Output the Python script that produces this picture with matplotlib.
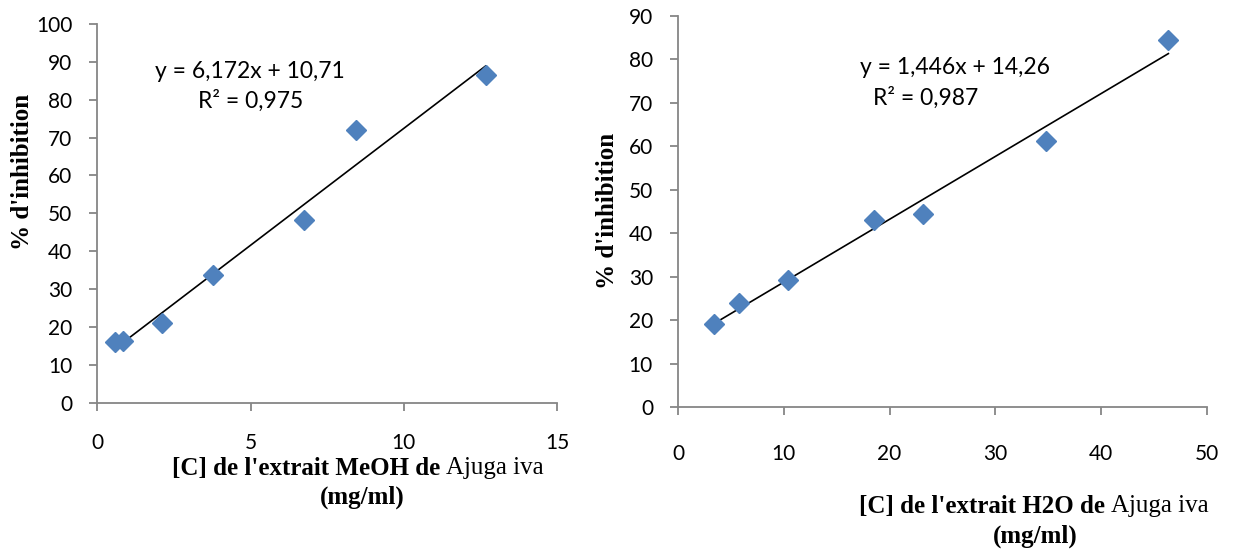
import numpy as np
import matplotlib
matplotlib.use("Agg")
import matplotlib.pyplot as plt

# MeOH extract (left)
meoh_conc = [0.58, 0.85, 2.1, 3.77, 6.74, 8.43, 12.67]
meoh_inhib = [16.1, 16.4, 21.1, 33.7, 48.2, 72.0, 86.5]
meoh_fit = (6.172, 10.71)
meoh_eq = ["y = 6,172x + 10,71", "R² = 0,975"]

# H2O extract (right)
h2o_conc = [3.43, 5.77, 10.43, 18.55, 23.2, 34.75, 46.35]
h2o_inhib = [19.2, 24.0, 29.2, 43.0, 44.3, 61.1, 84.4]
h2o_fit = (1.446, 14.26)
h2o_eq = ["y = 1,446x + 14,26", "R² = 0,987"]

W, H = 1237, 550
BLUE = "#4F81BD"
GRAY = "#868686"
TICK_FONT = "Lato"
SERIF = "Liberation Serif"
LABEL_SIZE = 18


def px(x, y):
    return x / W, 1 - y / H


def style_axes(ax, xlim, xticks, ylim, yticks, xpad):
    ax.set_xlim(*xlim)
    ax.set_ylim(*ylim)
    ax.set_xticks(xticks)
    ax.set_yticks(yticks)
    for s in ["top", "right"]:
        ax.spines[s].set_visible(False)
    for s in ["left", "bottom"]:
        ax.spines[s].set_color(GRAY)
        ax.spines[s].set_linewidth(1.3)
    ax.tick_params(axis="both", direction="out", length=6, width=1.3,
                   color=GRAY, labelsize=15)
    ax.tick_params(axis="y", pad=12)
    ax.tick_params(axis="x", pad=xpad)
    for lab in ax.get_xticklabels() + ax.get_yticklabels():
        lab.set_fontfamily(TICK_FONT)


def draw_panel(ax, xs, ys, fit):
    x = np.array(xs)
    a, b = fit
    xl = np.array([x.min(), x.max()])
    ax.plot(xl, a * xl + b, color="black", lw=1.2, zorder=2)
    ax.plot(xs, ys, linestyle="none", marker="D", ms=10.5, color=BLUE,
            mec=BLUE, zorder=3, clip_on=False)


def mixed_label(fig, cx, y, bold_part, normal_part, size=LABEL_SIZE):
    r = fig.canvas.get_renderer()
    t1 = fig.text(0, 0, bold_part + " ", fontfamily=SERIF, fontweight="bold",
                  fontsize=size, ha="left", va="center")
    t2 = fig.text(0, 0, normal_part, fontfamily=SERIF, fontsize=size,
                  ha="left", va="center")
    w1 = t1.get_window_extent(r).width
    w2 = t2.get_window_extent(r).width
    x0 = cx - (w1 + w2) / 2
    t1.set_position(px(x0, y))
    t2.set_position(px(x0 + w1, y))


fig = plt.figure(figsize=(W / 100, H / 100), dpi=100)

ax1 = fig.add_axes([97.3 / W, 1 - 402.7 / H, 459.7 / W, 378.7 / H])
style_axes(ax1, (0, 15), [0, 5, 10, 15], (0, 100), range(0, 101, 10), 16)
draw_panel(ax1, meoh_conc, meoh_inhib, meoh_fit)

ax2 = fig.add_axes([678 / W, 1 - 407 / H, 529 / W, 391.3 / H])
style_axes(ax2, (0, 50), range(0, 51, 10), (0, 90), range(0, 91, 10), 21)
draw_panel(ax2, h2o_conc, h2o_inhib, h2o_fit)

# trendline equations
eq_font = dict(fontfamily=TICK_FONT, fontsize=16.5, ha="center", va="center")
fig.text(*px(250, 72), meoh_eq[0], **eq_font)
fig.text(*px(251, 101), meoh_eq[1], **eq_font)
fig.text(*px(955, 67), h2o_eq[0], **eq_font)
fig.text(*px(926, 98), h2o_eq[1], **eq_font)

# y labels
fig.text(*px(23, 172), "% d'inhibition", fontfamily=SERIF, fontweight="bold",
         fontsize=LABEL_SIZE, rotation=90, ha="center", va="center")
fig.text(*px(608, 211), "% d'inhibition", fontfamily=SERIF, fontweight="bold",
         fontsize=LABEL_SIZE, rotation=90, ha="center", va="center")

# x labels
fig.canvas.draw()
mixed_label(fig, 358, 468, "[C] de l'extrait MeOH de", "Ajuga iva")
fig.text(*px(362, 497), "(mg/ml)", fontfamily=SERIF, fontweight="bold",
         fontsize=LABEL_SIZE, ha="center", va="center")
mixed_label(fig, 1034, 506, "[C] de l'extrait H2O de", "Ajuga iva")
fig.text(*px(1035, 536), "(mg/ml)", fontfamily=SERIF, fontweight="bold",
         fontsize=LABEL_SIZE, ha="center", va="center")

fig.savefig("out.png", dpi=100)
